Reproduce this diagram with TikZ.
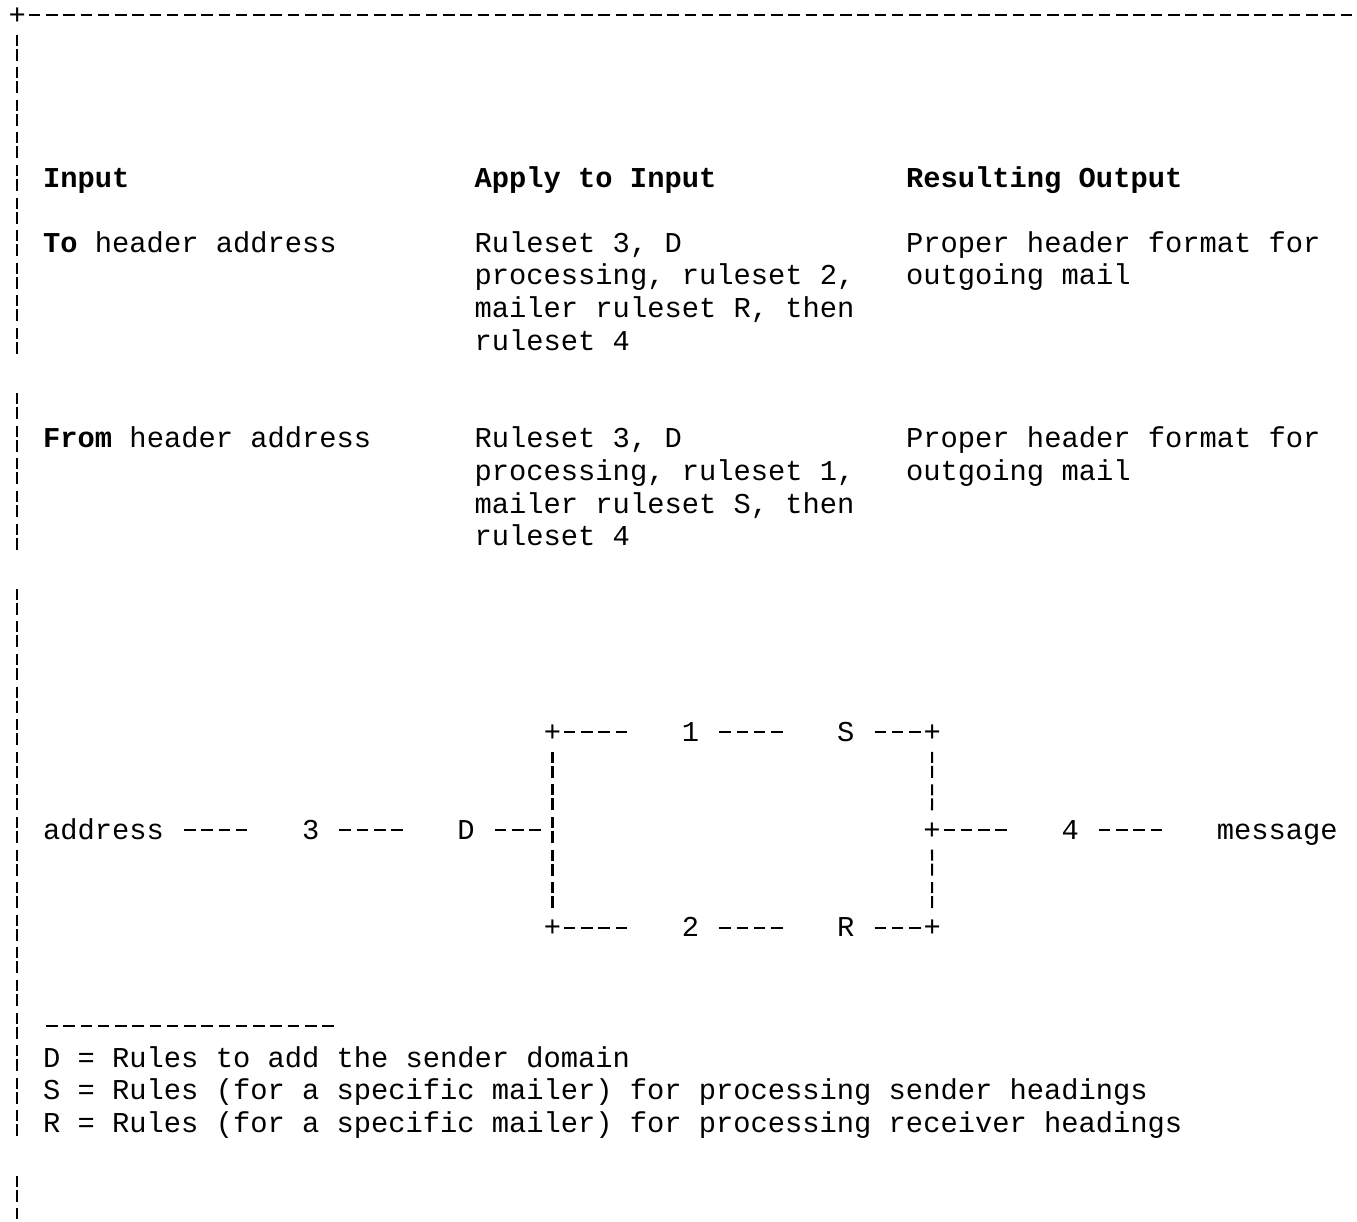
\documentclass[tikz,border=0pt]{standalone}
\usepackage{fontspec}
\usepackage{tikz}
\usetikzlibrary{positioning}
\newfontfamily\courier{Liberation Mono}

\begin{document}
\begin{tikzpicture}[
  x=0.5pt, y=-0.5pt,
  txt/.style={font=\courier\fontsize{14.38pt}{16.3pt}\selectfont, inner sep=0pt, outer sep=0pt, anchor=base west},
  cell/.style={txt, text height=10pt, text depth=1pt},
  block/.style={txt, align=left},
  hyph/.style={line width=1.1pt, dash pattern=on 5.75pt off 2.88pt},
  vbar/.style={line width=1.1pt, dash pattern=on 5.5pt off 1.5pt on 6pt off 3.3pt},
  link/.style 2 args={hyph, shorten <=#1, shorten >=#2}
]
  \useasboundingbox (0,0) rectangle (1357,1222);

  % frame
  \node[cell] (corner) at (8.7,24) {+};
  \coordinate (frameend) at (1355,15);
  \draw[link={1.44pt}{1.44pt}] (corner.east) -- (frameend);
  \foreach \a/\b in {1/10,12/16,18/34,36/37}
    \draw[vbar] (17.3,{15+32.6*\a-13}) -- (17.3,{15+32.6*\b+13});

  % table (block nodes sit on the baseline of their last line)
  \node[txt] (hin) at (43.2,187) {\bfseries Input};
  \node[txt, base right=172.6pt of hin] (happ) {\bfseries Apply to Input};
  \node[txt, base right=94.93pt of happ] (hout) {\bfseries Resulting Output};

  \node[txt] (tohdr) at (43.2,252.2) {\textbf{To} header address};
  \node[block] (torules) at (474.7,350) {Ruleset 3, D\\processing, ruleset 2,\\mailer ruleset R, then\\ruleset 4};
  \node[block] (toout) at (906.2,284.8) {Proper header format for\\outgoing mail};

  \node[txt] (fromhdr) at (43.2,447.8) {\textbf{From} header address};
  \node[block] (fromrules) at (474.7,545.6) {Ruleset 3, D\\processing, ruleset 1,\\mailer ruleset S, then\\ruleset 4};
  \node[block] (fromout) at (906.2,480.4) {Proper header format for\\outgoing mail};

  % ruleset flow
  \node[cell] (addr) at (43.2,839) {address};
  \node[cell, base right=69.04pt of addr] (n3) {3};
  \node[cell, base right=69.04pt of n3] (nD) {D};
  \node[cell] (ctl) at (543.8,741.2) {+};
  \node[cell, base right=60.41pt of ctl] (n1) {1};
  \node[cell, base right=69.04pt of n1] (nS) {S};
  \node[cell, base right=34.52pt of nS] (ctr) {+};
  \node[cell] (cbl) at (543.8,936.8) {+};
  \node[cell, base right=60.41pt of cbl] (n2) {2};
  \node[cell, base right=69.04pt of n2] (nR) {R};
  \node[cell, base right=34.52pt of nR] (cbr) {+};
  \node[cell, base right=224.38pt of nD] (cmr) {+};
  \node[cell, base right=60.41pt of cmr] (n4) {4};
  \node[cell, base right=69.04pt of n4] (msg) {message};
  \coordinate (jl) at (ctl.center |- nD.east);

  \draw[link={10.07pt}{27.33pt}] (addr.east) -- (n3.west);
  \draw[link={10.07pt}{27.33pt}] (n3.east) -- (nD.west);
  \draw[link={10.07pt}{5.76pt}] (nD.east) -- (jl);
  \draw[link={1.44pt}{27.33pt}] (ctl.east) -- (n1.west);
  \draw[link={10.07pt}{27.33pt}] (n1.east) -- (nS.west);
  \draw[link={10.07pt}{1.44pt}] (nS.east) -- (ctr.west);
  \draw[link={1.44pt}{27.33pt}] (cbl.east) -- (n2.west);
  \draw[link={10.07pt}{27.33pt}] (n2.east) -- (nR.west);
  \draw[link={10.07pt}{1.44pt}] (nR.east) -- (cbr.west);
  \draw[link={1.44pt}{27.33pt}] (cmr.east) -- (n4.west);
  \draw[link={10.07pt}{27.33pt}] (n4.east) -- (msg.west);
  \draw[vbar, shorten <=9.8pt, shorten >=9.8pt] (ctl.center) -- (cbl.center);
  \draw[vbar, shorten <=9.8pt, shorten >=9.8pt] (ctr.center) -- (cmr.center);
  \draw[vbar, shorten <=9.8pt, shorten >=9.8pt] (cmr.center) -- (cbr.center);

  % legend
  \draw[hyph] (46.1,1025.6) -- (333.7,1025.6);
  \node[block] (legend) at (43.2,1132.4) {D = Rules to add the sender domain\\S = Rules (for a specific mailer) for processing sender headings\\R = Rules (for a specific mailer) for processing receiver headings};
\end{tikzpicture}
\end{document}
